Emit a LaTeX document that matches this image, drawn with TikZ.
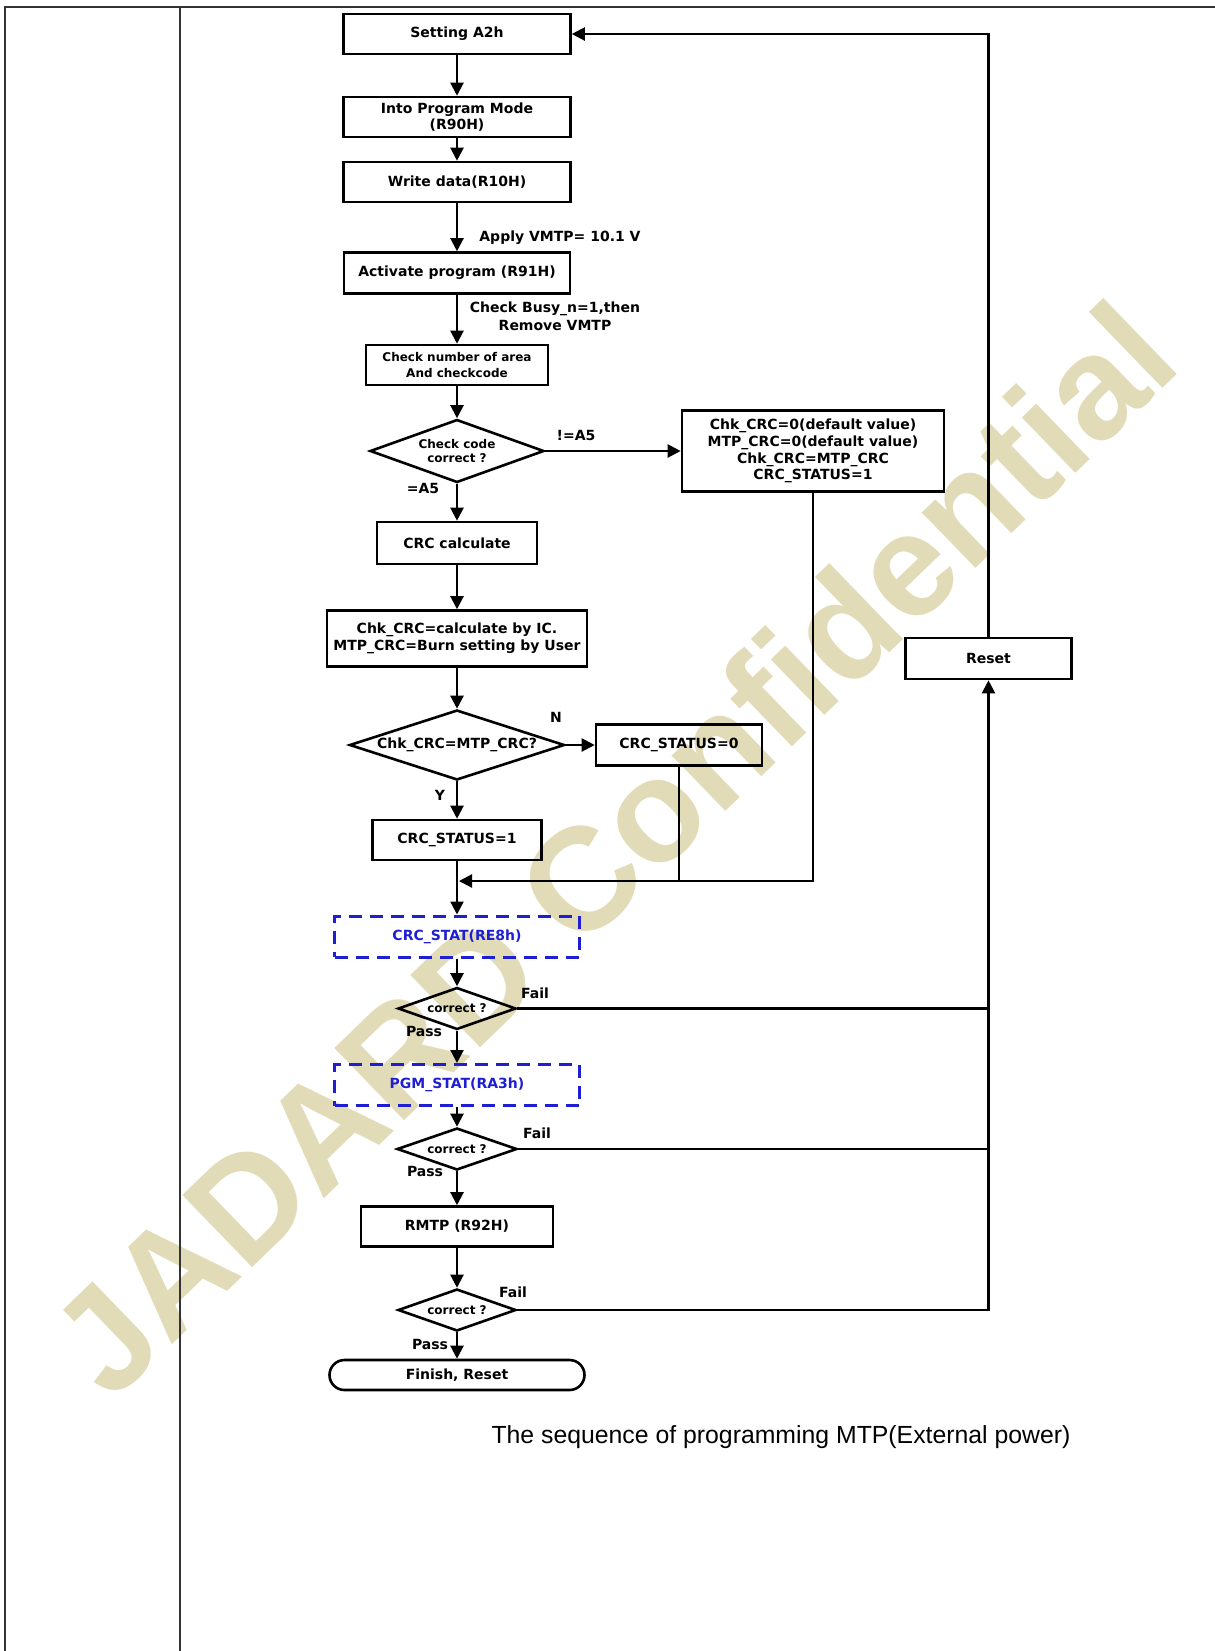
\documentclass[tikz,border=0pt]{standalone}
\usepackage{fontspec}
\setmainfont{DejaVu Sans}
\newfontfamily\capfont{Liberation Sans}
\usetikzlibrary{shapes.geometric,arrows.meta}

\definecolor{wmark}{RGB}{226,219,184}
\definecolor{statblue}{RGB}{30,30,210}

\tikzset{
  stepbox/.style={draw, line width=1.3pt, align=center, inner sep=1pt,
    font=\fontsize{7}{8.4}\selectfont\bfseries},
  smallbox/.style={stepbox, font=\fontsize{6}{7.6}\selectfont\bfseries},
  decision/.style={draw, diamond, line width=1.3pt, inner sep=0pt, align=center,
    font=\fontsize{6}{7.4}\selectfont\bfseries},
  statbox/.style={stepbox, draw=statblue, text=statblue, line width=1.5pt,
    dash pattern=on 6.5pt off 4pt},
  endbox/.style={stepbox, rounded corners=7.5pt},
  tag/.style={inner sep=0pt, align=center, font=\fontsize{7}{8.8}\selectfont\bfseries},
  flow/.style={line width=1.1pt, -{Triangle[length=6.5pt,width=6.5pt]}},
  wire/.style={line width=1.1pt},
}

\begin{document}
\begin{tikzpicture}[x=0.5pt, y=-0.5pt]
\useasboundingbox (0,0) rectangle (1215,1651);
% watermark behind everything
\node[rotate=44, text=wmark, font=\capfont\fontsize{73}{80}\selectfont\bfseries] (wmark) at (612,848) {JADARD Confidential};
% table frame
\draw[line width=1pt, black!80] (5,1651) -- (5,6.5) -- (1215,6.5) (180,6.5) -- (180,1651);

% main column
\node[stepbox, minimum width=113.5pt, minimum height=20pt] (setA2h) at (457,34) {Setting A2h};
\node[stepbox, minimum width=113.5pt, minimum height=20pt] (intoProg) at (457,117) {Into Program Mode\\(R90H)};
\node[stepbox, minimum width=113.5pt, minimum height=20pt] (writeData) at (457,182) {Write data(R10H)};
\node[stepbox, minimum width=113pt, minimum height=20.5pt] (activate) at (457,273) {Activate program (R91H)};
\node[smallbox, minimum width=91pt, minimum height=20pt] (chkNum) at (457,365) {Check number of area\\And checkcode};
\node[decision, minimum width=87pt, minimum height=31.5pt, aspect=2.76] (dCode) at (457,451) {Check code\\correct ?};
\node[stepbox, minimum width=131pt, minimum height=40.5pt] (defBox) at (813,451) {Chk\_CRC=0(default value)\\MTP\_CRC=0(default value)\\Chk\_CRC=MTP\_CRC\\CRC\_STATUS=1};
\node[stepbox, minimum width=80pt, minimum height=21pt] (crcCalc) at (457,543) {CRC calculate};
\node[stepbox, minimum width=130pt, minimum height=28pt] (chkIC) at (457,638.5) {Chk\_CRC=calculate by IC.\\MTP\_CRC=Burn setting by User};
\node[decision, minimum width=107.5pt, minimum height=35pt, aspect=3.07, font=\fontsize{7}{8}\selectfont\bfseries] (dCRC) at (457,745) {Chk\_CRC=MTP\_CRC?};
\node[stepbox, minimum width=83pt, minimum height=20.5pt] (crcSt0) at (679,745) {CRC\_STATUS=0};
\node[stepbox, minimum width=84.5pt, minimum height=20pt] (crcSt1) at (457,840) {CRC\_STATUS=1};
\node[statbox, minimum width=122.5pt, minimum height=20.5pt] (crcStat) at (457,936.5) {CRC\_STAT(RE8h)};
\node[decision, minimum width=59pt, minimum height=21pt, aspect=2.81] (dOK1) at (457,1008.5) {correct ?};
\node[statbox, minimum width=122.5pt, minimum height=20.5pt] (pgmStat) at (457,1085) {PGM\_STAT(RA3h)};
\node[decision, minimum width=60pt, minimum height=21pt, aspect=2.81] (dOK2) at (457,1149) {correct ?};
\node[stepbox, minimum width=96pt, minimum height=20pt] (rmtp) at (457,1226.5) {RMTP (R92H)};
\node[decision, minimum width=59pt, minimum height=21pt, aspect=2.81] (dOK3) at (457,1310) {correct ?};
\node[endbox, minimum width=127.5pt, minimum height=15pt] (finish) at (457,1375) {Finish, Reset};
\node[stepbox, minimum width=83pt, minimum height=20.5pt] (reset) at (988.5,658.5) {Reset};

% labels
\node[tag, anchor=west] (lblVmtp) at (479,238) {Apply VMTP= 10.1 V};
\node[tag] (lblBusy) at (555,316) {Check Busy\_n=1,then\\Remove VMTP};
\node[tag] (lblNe) at (576,435) {!=A5};
\node[tag] (lblEq) at (423,488) {=A5};
\node[tag] (lblN) at (556,717) {N};
\node[tag] (lblY) at (440,795) {Y};
\node[tag] (lblFail1) at (535,993) {Fail};
\node[tag] (lblPass1) at (424,1031) {Pass};
\node[tag] (lblFail2) at (537,1133) {Fail};
\node[tag] (lblPass2) at (425,1171) {Pass};
\node[tag] (lblFail3) at (513,1292) {Fail};
\node[tag] (lblPass3) at (430,1344) {Pass};
\node[font=\capfont\fontsize{12.4}{14}\selectfont] (caption) at (781,1437) {The sequence of programming MTP(External power)};

% connectors
\draw[flow] (setA2h) -- (intoProg);
\draw[flow] (intoProg) -- (writeData);
\draw[flow] (writeData) -- (activate);
\draw[flow] (activate) -- (chkNum);
\draw[flow] (chkNum) -- (dCode);
\draw[flow] (dCode) -- (defBox);
\draw[flow] (dCode) -- (crcCalc);
\draw[flow] (crcCalc) -- (chkIC);
\draw[flow] (chkIC) -- (dCRC);
\draw[flow] (dCRC) -- (crcSt0);
\draw[flow] (dCRC) -- (crcSt1);
\draw[flow] (crcSt1) -- (crcStat);
\coordinate (merge) at (459,881);
\draw[flow] (defBox) |- (merge);
\draw[wire] (crcSt0) -- (crcSt0 |- merge);
\draw[flow] (crcStat) -- (dOK1);
\draw[flow] (dOK1) -- (pgmStat);
\draw[flow] (pgmStat) -- (dOK2);
\draw[flow] (dOK2) -- (rmtp);
\draw[flow] (rmtp) -- (dOK3);
\draw[flow] (dOK3) -- (finish);
\draw[wire] (dOK1) -- (dOK1 -| reset);
\draw[wire] (dOK2) -- (dOK2 -| reset);
\draw[flow] (dOK3) -| (reset);
\draw[flow] (reset) |- (setA2h);
\end{tikzpicture}
\end{document}
